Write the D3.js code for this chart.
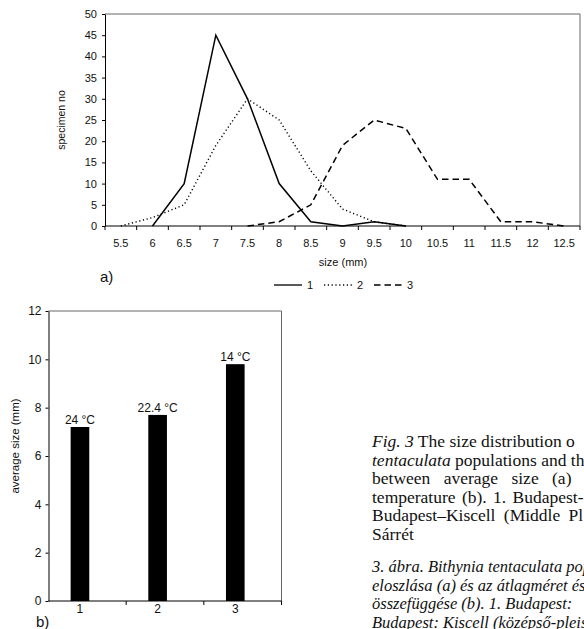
<!DOCTYPE html>
<html>
<head>
<meta charset="utf-8">
<script src="https://cdn.jsdelivr.net/npm/d3@7"></script>
<style>
  body { margin: 0; background: #fff; }
  svg text { font-family: "Liberation Sans", Arial, sans-serif; fill: #111; }
  .caption text { font-family: "Liberation Serif", "Times New Roman", serif; }
</style>
</head>
<body>
<svg id="fig"></svg>
<script>
// chart (a): size distribution
const sizes = ["5.5", "6", "6.5", "7", "7.5", "8", "8.5", "9", "9.5", "10", "10.5", "11", "11.5", "12", "12.5"];
const series1 = [null, 0, 10, 45, 30, 10, 1, 0, 1, 0, null, null, null, null, null];
const series2 = [0, 2, 5, 19, 30, 25, 13, 4, 1, 0, null, null, null, null, null];
const series3 = [null, null, null, null, 0, 1, 5, 19, 25, 23, 11, 11, 1, 1, 0];
const seriesNames = ["1", "2", "3"];
const countTicks = [0, 5, 10, 15, 20, 25, 30, 35, 40, 45, 50];

// chart (b): average size per site
const sites = ["1", "2", "3"];
const avgSize = [7.2, 7.7, 9.8];
const tempLabels = ["24 °C", "22.4 °C", "14 °C"];
const sizeTicks = [0, 2, 4, 6, 8, 10, 12];

// caption text (italic parts flagged)
const captionEn = [
  [["Fig. 3", true], [" The size distribution o", false]],
  [["tentaculata", true], [" populations and th", false]],
  [["between average size (a)", false]],
  [["temperature (b). 1. Budapest-", false]],
  [["Budapest–Kiscell (Middle Pl", false]],
  [["Sárrét", false]]
];
const captionHu = [
  [["3. ábra. Bithynia tentaculata pop", true]],
  [["eloszlása (a) és az átlagméret és", true]],
  [["összefüggése (b). 1. Budapest:", true]],
  [["Budapest: Kiscell (középső-pleiszto", true]]
];

const width = 584, height = 629;
const svg = d3.select("#fig")
    .attr("width", width)
    .attr("height", height);

// ---------- chart (a) ----------
const x = d3.scaleBand().domain(sizes).range([105, 580]);
const y = d3.scaleLinear().domain([0, 50]).range([226, 14]);

// frame (top + right)
svg.append("path")
    .attr("d", `M${x.range()[0]},${y(50)}H${x.range()[1]}V${y(0)}`)
    .attr("fill", "none").attr("stroke", "#666").attr("stroke-width", 1);

const ya = svg.append("g")
    .attr("transform", `translate(${x.range()[0]},0)`)
    .call(d3.axisLeft(y).tickValues(countTicks).tickSize(3).tickSizeOuter(0).tickPadding(5));
ya.selectAll("text").attr("font-size", 11);

// x axis: line, ticks at category edges, labels in between
const xa = svg.append("g").attr("transform", `translate(0,${y(0)})`);
xa.append("line")
    .attr("x1", x.range()[0]).attr("x2", x.range()[1])
    .attr("stroke", "#000");
xa.selectAll("line.tick")
    .data(sizes.concat(["end"]))
    .enter().append("line")
    .attr("class", "tick")
    .attr("x1", (d, i) => i < sizes.length ? x(d) : x.range()[1])
    .attr("x2", (d, i) => i < sizes.length ? x(d) : x.range()[1])
    .attr("y1", 0).attr("y2", 4)
    .attr("stroke", "#000");
xa.selectAll("text")
    .data(sizes)
    .enter().append("text")
    .attr("x", d => x(d) + x.bandwidth() / 2)
    .attr("y", 21)
    .attr("text-anchor", "middle")
    .attr("font-size", 11)
    .text(d => d);

svg.append("text")
    .attr("x", 343).attr("y", 266)
    .attr("text-anchor", "middle").attr("font-size", 11)
    .text("size (mm)");

svg.append("text")
    .attr("transform", `translate(65,${(y(0) + y(50)) / 2}) rotate(-90)`)
    .attr("text-anchor", "middle").attr("font-size", 10.5)
    .text("specimen no");

const dashes = [null, "1.2,2.6", "6.5,4"];
const line = d3.line()
    .defined(d => d != null)
    .x((d, i) => x(sizes[i]) + x.bandwidth() / 2)
    .y(d => y(d));

[series1, series2, series3].forEach((s, k) => {
  svg.append("path")
      .datum(s)
      .attr("d", line)
      .attr("fill", "none")
      .attr("stroke", "#000")
      .attr("stroke-width", k === 1 ? 1.4 : 1.5)
      .attr("stroke-dasharray", dashes[k]);
});

// legend
const leg = svg.append("g").attr("transform", "translate(274,285)");
seriesNames.forEach((n, k) => {
  const g = leg.append("g").attr("transform", `translate(${k * 50},0)`);
  g.append("line")
      .attr("x1", 0).attr("x2", 28)
      .attr("stroke", "#000").attr("stroke-width", 1.3)
      .attr("stroke-dasharray", dashes[k]);
  g.append("text")
      .attr("x", 33).attr("y", 4)
      .attr("font-size", 11)
      .text(n);
});

svg.append("text")
    .attr("x", 100).attr("y", 282)
    .attr("font-size", 15)
    .text("a)");

// ---------- chart (b) ----------
const xb = d3.scaleBand().domain(sites).range([48.5, 281.5]);
const yb = d3.scaleLinear().domain([0, 12]).range([601, 311]);

svg.append("path")
    .attr("d", `M${xb.range()[0]},${yb(12)}H${xb.range()[1]}V${yb(0)}`)
    .attr("fill", "none").attr("stroke", "#666").attr("stroke-width", 1);

const yba = svg.append("g")
    .attr("transform", `translate(${xb.range()[0]},0)`)
    .call(d3.axisLeft(yb).tickValues(sizeTicks).tickSize(3).tickSizeOuter(0).tickPadding(4));
yba.selectAll("text").attr("font-size", 12);

const xba = svg.append("g").attr("transform", `translate(0,${yb(0)})`);
xba.append("line")
    .attr("x1", xb.range()[0]).attr("x2", xb.range()[1])
    .attr("stroke", "#000");
xba.selectAll("line.tick")
    .data(sites.slice(1).concat(["end"]))
    .enter().append("line")
    .attr("class", "tick")
    .attr("x1", (d, i) => i < sites.length - 1 ? xb(d) : xb.range()[1])
    .attr("x2", (d, i) => i < sites.length - 1 ? xb(d) : xb.range()[1])
    .attr("y1", 0).attr("y2", 4)
    .attr("stroke", "#000");

const barOffset = 0.285, barFrac = 0.24;
const barX = d => xb(d) + xb.bandwidth() * barOffset;
const barW = xb.bandwidth() * barFrac;

svg.selectAll("rect.bar")
    .data(sites)
    .enter().append("rect")
    .attr("class", "bar")
    .attr("x", d => barX(d))
    .attr("width", barW)
    .attr("y", (d, i) => yb(avgSize[i]))
    .attr("height", (d, i) => yb(0) - yb(avgSize[i]))
    .attr("fill", "#000");

svg.selectAll("text.temp")
    .data(sites)
    .enter().append("text")
    .attr("class", "temp")
    .attr("x", d => barX(d) + barW / 2)
    .attr("y", (d, i) => yb(avgSize[i]) - 3)
    .attr("text-anchor", "middle")
    .attr("font-size", 12)
    .text((d, i) => tempLabels[i]);

svg.selectAll("text.site")
    .data(sites)
    .enter().append("text")
    .attr("class", "site")
    .attr("x", d => barX(d) + barW / 2)
    .attr("y", yb(0) + 12)
    .attr("text-anchor", "middle")
    .attr("font-size", 12)
    .text(d => d);

svg.append("text")
    .attr("transform", `translate(19,${(yb(0) + yb(12)) / 2 - 10}) rotate(-90)`)
    .attr("text-anchor", "middle").attr("font-size", 11.5)
    .text("average size (mm)");

svg.append("text")
    .attr("x", 36).attr("y", 627)
    .attr("font-size", 15)
    .text("b)");

// ---------- caption ----------
const cap = svg.append("g").attr("class", "caption");
const lineH = 18.5;
const enSpacing = [0, 0, 9, 2, 4, 0];
function writeLines(lines, y0, size, spacing) {
  lines.forEach((parts, i) => {
    const t = cap.append("text")
        .attr("x", 372)
        .attr("y", y0 + i * lineH)
        .attr("font-size", size);
    if (spacing && spacing[i]) t.attr("word-spacing", spacing[i]);
    parts.forEach(p => {
      t.append("tspan")
          .attr("font-style", p[1] ? "italic" : "normal")
          .text(p[0]);
    });
  });
}
writeLines(captionEn, 447, 17.5, enSpacing);
writeLines(captionHu, 572, 16.5, null);
</script>
</body>
</html>
